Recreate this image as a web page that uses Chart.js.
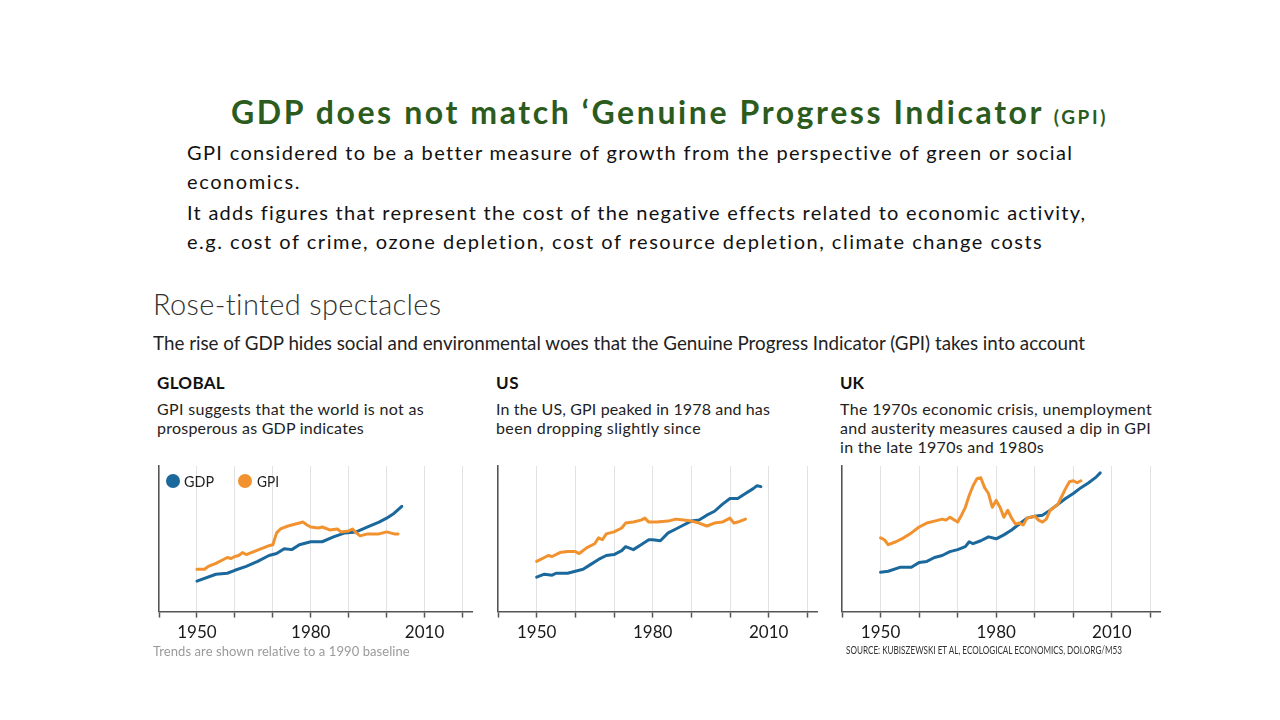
<!DOCTYPE html>
<html>
<head>
<meta charset="utf-8">
<script src="https://cdn.jsdelivr.net/npm/chart.js@4.4.1/dist/chart.umd.min.js"></script>
<style>
  body { margin: 0; width: 1280px; height: 720px; background: #fff; position: relative; overflow: hidden; font-family: Lato, "Open Sans", sans-serif; }
  .t { position: absolute; white-space: nowrap; transform-origin: 0 50%; }
  .title { left: 231px; top: 92px; line-height: 40px; font-size: 32px; font-weight: 700; color: #2c5b1e; }
  .title small { font-size: 19px; }
  .body { left: 187px; font-size: 20px; line-height: 28px; color: #111; }
  .head { left: 153px; top: 285px; font-size: 29px; font-weight: 300; line-height: 38px; color: #333; }
  .sub { left: 153px; top: 331px; font-size: 19px; line-height: 24px; color: #222; }
  .region { font-size: 17px; font-weight: 700; line-height: 22px; color: #111; top: 372px; }
  .desc { font-size: 16px; line-height: 20px; color: #222; }
  .note { left: 153px; top: 643px; font-size: 13px; line-height: 16px; color: #9a9a9a; }
  .src { left: 846px; top: 643px; font-size: 11px; line-height: 14px; color: #333; }
  .leg { font-size: 15px; line-height: 20px; color: #222; top: 471px; }
  .dot { position: absolute; width: 14px; height: 14px; border-radius: 50%; top: 474px; }
  canvas { position: absolute; }
</style>
</head>
<body>
<div class="t title" data-w="877">GDP does not match ‘Genuine Progress Indicator <small>(GPI)</small></div>
<div class="t body" style="top:138px" data-w="886">GPI considered to be a better measure of growth from the perspective of green or social</div>
<div class="t body" style="top:167px" data-w="114">economics.</div>
<div class="t body" style="top:198px" data-w="899">It adds figures that represent the cost of the negative effects related to economic activity,</div>
<div class="t body" style="top:227px" data-w="857">e.g. cost of crime, ozone depletion, cost of resource depletion, climate change costs</div>

<div class="t head" data-w="289">Rose-tinted spectacles</div>
<div class="t sub" data-w="932">The rise of GDP hides social and environmental woes that the Genuine Progress Indicator (GPI) takes into account</div>

<div class="t region" style="left:157px" data-w="68">GLOBAL</div>
<div class="t desc" style="left:157px;top:399px" data-w="267">GPI suggests that the world is not as</div>
<div class="t desc" style="left:157px;top:418px" data-w="207">prosperous as GDP indicates</div>

<div class="t region" style="left:496px" data-w="23">US</div>
<div class="t desc" style="left:496px;top:399px" data-w="274">In the US, GPI peaked in 1978 and has</div>
<div class="t desc" style="left:496px;top:418px" data-w="205">been dropping slightly since</div>

<div class="t region" style="left:840px" data-w="24">UK</div>
<div class="t desc" style="left:840px;top:399px" data-w="312">The 1970s economic crisis, unemployment</div>
<div class="t desc" style="left:840px;top:418px" data-w="311">and austerity measures caused a dip in GPI</div>
<div class="t desc" style="left:840px;top:437px" data-w="204">in the late 1970s and 1980s</div>

<canvas id="c-global" width="320" height="183" style="left:154px;top:465px"></canvas>
<canvas id="c-us" width="326" height="183" style="left:493px;top:465px"></canvas>
<canvas id="c-uk" width="325" height="183" style="left:837px;top:465px"></canvas>

<div class="dot" style="left:166px;background:#1b689c"></div>
<div class="t leg" style="left:184px" data-w="30">GDP</div>
<div class="dot" style="left:238px;background:#f2922e"></div>
<div class="t leg" style="left:257px" data-w="22">GPI</div>

<div class="t note" data-w="257">Trends are shown relative to a 1990 baseline</div>
<div class="t src" data-w="276">SOURCE: KUBISZEWSKI ET AL, ECOLOGICAL ECONOMICS, DOI.ORG/M53</div>

<script>
/* values, unitless index (axis baseline = 0) */
var globalGdpYears = [1950, 1955, 1958, 1960, 1963, 1966, 1969, 1971, 1973, 1975, 1977, 1980, 1983, 1986, 1989, 1992, 1995, 1998, 2000, 2002, 2004];
var globalGdp      = [31, 38, 39, 42, 46, 51, 57, 59, 64, 63, 68, 71, 71, 76, 80, 81, 86, 91, 95, 100, 107];
var globalGpiYears = [1950, 1952, 1953, 1955, 1957, 1958, 1959, 1960, 1961, 1962, 1963, 1965, 1967, 1969, 1970, 1971, 1972, 1974, 1976, 1978, 1979, 1980, 1982, 1983, 1985, 1987, 1988, 1990, 1991, 1992, 1993, 1995, 1998, 2000, 2002, 2003];
var globalGpi      = [43, 43, 46, 49, 53, 55, 54, 56, 57, 60, 58, 61, 64, 67, 68, 80, 84, 87, 89, 91, 88, 86, 85, 86, 83, 84, 81, 82, 84, 80, 77, 79, 79, 81, 79, 79];

var usGdpYears = [1950, 1952, 1954, 1955, 1958, 1960, 1962, 1964, 1966, 1968, 1970, 1972, 1973, 1975, 1977, 1979, 1980, 1982, 1984, 1986, 1988, 1990, 1992, 1994, 1996, 1998, 2000, 2002, 2004, 2006, 2007, 2008];
var usGdp      = [35, 38, 37, 39, 39, 41, 43, 48, 53, 57, 58, 62, 66, 63, 68, 73, 73, 72, 80, 84, 88, 92, 93, 98, 102, 109, 115, 115, 120, 125, 128, 127];
var usGpiYears = [1950, 1952, 1953, 1954, 1956, 1958, 1960, 1961, 1963, 1965, 1966, 1967, 1968, 1970, 1972, 1973, 1975, 1977, 1978, 1979, 1981, 1984, 1986, 1988, 1990, 1992, 1994, 1996, 1998, 2000, 2001, 2002, 2004];
var usGpi      = [51, 55, 57, 56, 60, 61, 61, 59, 65, 69, 75, 73, 79, 81, 85, 90, 91, 93, 95, 91, 91, 92, 94, 93, 92, 90, 87, 90, 91, 95, 90, 91, 94];

var ukGdpYears = [1950, 1952, 1955, 1958, 1960, 1962, 1964, 1966, 1968, 1970, 1972, 1973, 1974, 1976, 1978, 1980, 1982, 1984, 1986, 1988, 1990, 1992, 1994, 1996, 1998, 2000, 2002, 2004, 2006, 2007];
var ukGdp      = [40, 41, 45, 45, 50, 51, 55, 57, 61, 63, 66, 71, 69, 72, 76, 74, 78, 83, 89, 95, 97, 98, 103, 109, 115, 120, 126, 131, 137, 141];
var ukGpiYears = [1950, 1951, 1952, 1954, 1956, 1958, 1960, 1962, 1964, 1966, 1967, 1968, 1970, 1971, 1972, 1973, 1974, 1975, 1976, 1977, 1978, 1979, 1980, 1981, 1982, 1983, 1984, 1985, 1986, 1987, 1988, 1990, 1991, 1992, 1993, 1994, 1996, 1997, 1998, 1999, 2000, 2001, 2002];
var ukGpi      = [75, 73, 68, 71, 75, 80, 86, 90, 92, 94, 93, 96, 91, 98, 106, 118, 128, 135, 136, 126, 120, 106, 113, 106, 96, 103, 95, 89, 90, 88, 95, 97, 93, 91, 94, 103, 109, 117, 125, 132, 133, 131, 133];

var tickLabels = ['1950', '1980', '2010'];
var GDP_COLOR = '#1b689c', GPI_COLOR = '#f2922e';

/* match each text line to the width it has in the picture:
   spread with letter-spacing, squeeze with scaleX */
document.querySelectorAll('[data-w]').forEach(function (el) {
  var target = +el.getAttribute('data-w');
  var w = el.getBoundingClientRect().width;
  if (w > target) el.style.transform = 'scaleX(' + (target / w) + ')';
  else el.style.letterSpacing = ((target - w) / el.textContent.length) + 'px';
});

function pts(years, vals) { return years.map(function (y, i) { return { x: y, y: vals[i] }; }); }

function panel(id, gdpYears, gdp, gpiYears, gpi) {
  var line = { borderWidth: 3, pointRadius: 0, tension: 0, borderJoinStyle: 'round', borderCapStyle: 'round', fill: false };
  return new Chart(document.getElementById(id), {
    type: 'line',
    data: {
      datasets: [
        Object.assign({ label: 'GPI', data: pts(gpiYears, gpi), borderColor: GPI_COLOR }, line),
        Object.assign({ label: 'GDP', data: pts(gdpYears, gdp), borderColor: GDP_COLOR }, line),
      ],
    },
    options: {
      responsive: false, animation: false, devicePixelRatio: 1,
      layout: { padding: { left: 0, right: 2, top: 1, bottom: 0 } },
      plugins: { legend: { display: false }, tooltip: { enabled: false } },
      scales: {
        x: {
          type: 'linear', min: 1940, max: 2022.5,
          border: { color: '#555', width: 1.5 },
          grid: { color: '#e2e2e2', borderDash: [1, 3], tickColor: '#555', tickLength: 6, tickBorderDash: [], tickWidth: 1.5 },
          ticks: {
            stepSize: 10, includeBounds: false, autoSkip: false, maxRotation: 0, padding: 5,
            color: '#1a1a1a', font: { family: 'Lato', size: 17 },
            callback: function (v) { var s = String(v); return tickLabels.indexOf(s) >= 0 ? s : ''; },
          },
        },
        y: {
          min: 0, max: 148,
          border: { color: '#555', width: 1.5 },
          grid: { display: false, drawTicks: false },
          ticks: { display: false },
        },
      },
    },
  });
}

panel('c-global', globalGdpYears, globalGdp, globalGpiYears, globalGpi);
panel('c-us', usGdpYears, usGdp, usGpiYears, usGpi);
panel('c-uk', ukGdpYears, ukGdp, ukGpiYears, ukGpi);
</script>
</body>
</html>
